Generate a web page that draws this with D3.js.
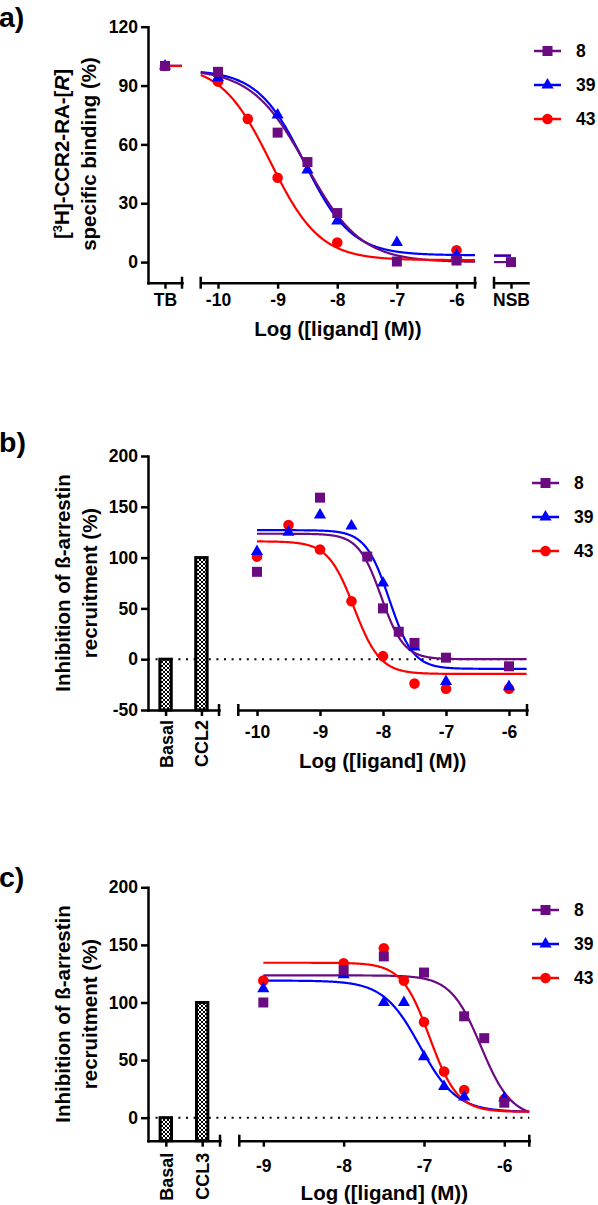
<!DOCTYPE html>
<html><head><meta charset="utf-8">
<script src="https://cdn.jsdelivr.net/npm/d3@7/dist/d3.min.js"></script>
<style>
body{margin:0;background:#fff}
svg text{font-family:"Liberation Sans",Arial,Helvetica,sans-serif;font-weight:bold;fill:#000}
</style></head><body>
<svg id="chart" width="598" height="1205"></svg>
<script>
// ---------------- DATA ----------------
const seriesNames = ["8", "39", "43"];

// Panel a) radioligand displacement
const aLogConc = [-10, -9.5, -9, -8.5, -8, -7, -6];
const a8  = [97, null, 66, 51, 25, 0.3, 0.8];
const a39 = [94, null, 75, 47, 21, 10, 3.6];
const a43 = [92, 73, 43, null, 10, null, 6];
const aTBCategory = ["TB"];
const aTB = [100, 100, 100];
const aNSBCategory = ["NSB"];
const aNSB = [0, null, null];
const aNSBLevel = [0, 3.3, 3.3];
const aTop = [98.5, 98, 101];
const aBottom = [0, 3.5, 1];
const aLogIC50 = [-8.52, -8.55, -9.12];
const aHill = [0.95, 1.1, 1.05];
const aYTicks = [0, 30, 60, 90, 120];
const aXTicks = [-10, -9, -8, -7, -6];

// Panel b) beta-arrestin, CCL2
const bBars = ["Basal", "CCL2"];
const bBarValues = [0, 100];
const bLogConc = [-10, -9.5, -9, -8.5, -8.25, -8, -7.75, -7.5, -7, -6];
const b8  = [86, null, 159, null, 101, 50, 27, 16, 1.5, -7];
const b39 = [106, 125, 142, 131, null, 75, null, 12, -22, -27];
const b43 = [101, 132, 108, 57, null, 3, null, -24, -29, -29];
const bTop = [123.5, 127, 116];
const bBottom = [0, -9.5, -14.5];
const bLogIC50 = [-8.03, -7.9, -8.46];
const bHill = [2.4, 2.3, 2.1];
const bYTicks = [-50, 0, 50, 100, 150, 200];
const bXTicks = [-10, -9, -8, -7, -6];

// Panel c) beta-arrestin, CCL3
const cBars = ["Basal", "CCL3"];
const cBarValues = [0, 100];
const cLogConc = [-9, -8, -7.5, -7.25, -7, -6.75, -6.5, -6.25, -6];
const c8  = [100, 128, 140, null, 126, null, 88, 69, 13];
const c39 = [112, 124, 100, 100, 53, 27, 18, null, 17];
const c43 = [119, 134, 147, 119, 83, 40, 24, null, 16];
const cTop = [123.5, 119, 134.5];
const cBottom = [0, 5, 5];
const cLogIC50 = [-6.29, -7.05, -6.93];
const cHill = [2.3, 1.9, 2.5];
const cYTicks = [0, 50, 100, 150, 200];
const cXTicks = [-9, -8, -7, -6];

// ---------------- STYLE ----------------
const colors = ["#6b0b82", "#0000ff", "#ff0000"];
const shapes = [d3.symbolSquare, d3.symbolTriangle, d3.symbolCircle];
const symSizes = [100, 64, 88];
const AXW = 2.5;

const svg = d3.select("#chart");
const defs = svg.append("defs");
const pat = defs.append("pattern").attr("id", "xhatch").attr("patternUnits", "userSpaceOnUse")
  .attr("width", 4).attr("height", 4);
pat.append("rect").attr("width", 4).attr("height", 4).attr("fill", "#fff");
pat.append("path").attr("d", "M0,0L4,4M4,0L0,4M-1,3L1,5M3,-1L5,1").attr("stroke", "#000").attr("stroke-width", 1);

function hill(x, top, bottom, ic, h) { return bottom + (top - bottom) / (1 + Math.pow(10, (x - ic) * h)); }

function styleAxis(sel, fs) {
  sel.selectAll("path, line").attr("stroke", "#000").attr("stroke-width", AXW);
  sel.select(".domain").attr("stroke-linecap", "square");
  sel.selectAll("text").attr("font-size", fs).attr("fill", "#000")
     .attr("font-family", '"Liberation Sans",Arial,sans-serif').attr("font-weight", "bold");
}
function cap(g, x, y) {
  g.append("line").attr("x1", x).attr("x2", x).attr("y1", y - 6).attr("y2", y + 6)
    .attr("stroke", "#000").attr("stroke-width", AXW);
}
function marker(g, i, x, y) {
  g.append("path").attr("d", d3.symbol(shapes[i], symSizes[i])())
    .attr("transform", `translate(${x},${y})`).attr("fill", colors[i]);
}
function legend(g, x0, x1, tx, ys) {
  seriesNames.forEach((n, i) => {
    g.append("line").attr("x1", x0).attr("x2", x1).attr("y1", ys[i]).attr("y2", ys[i])
      .attr("stroke", colors[i]).attr("stroke-width", 2.5);
    marker(g, i, (x0 + x1) / 2, ys[i]);
    g.append("text").attr("x", tx).attr("y", ys[i]).attr("dy", "0.36em").attr("font-size", 17.5).text(n);
  });
}

function drawPanel(p) {
  const g = svg.append("g");
  // panel letter
  g.append("text").attr("x", p.letterX).attr("y", p.letterY).attr("font-size", 28.5).text(p.letter);

  const y = d3.scaleLinear().domain(p.yDomain).range(p.yRange);
  const x = d3.scaleLinear().domain(p.mainDomain).range(p.mainRange);
  const axisY = p.yRange[0];

  // y axis
  const gy = g.append("g").attr("transform", `translate(${p.yAxisX},0)`)
    .call(d3.axisLeft(y).tickValues(p.yTicks).tickSize(7).tickSizeOuter(0).tickPadding(3).tickFormat(String));
  styleAxis(gy, 17.5);

  // y title
  const yt = g.append("g").attr("transform", `translate(0,${p.yTitleY})`);
  p.yTitleLines.forEach((fn, k) => {
    const t = yt.append("text").attr("transform", `translate(${p.yTitleX[k]},0) rotate(-90)`)
      .attr("text-anchor", "middle").attr("dy", "0.36em").attr("font-size", 20.5);
    fn(t);
  });

  // zero dotted line
  if (p.zeroLine) {
    g.append("line").attr("x1", p.yAxisX).attr("x2", p.mainRange[1]).attr("y1", y(0)).attr("y2", y(0))
      .attr("stroke", "#000").attr("stroke-width", 2).attr("stroke-dasharray", "2,5.6");
  }

  // left category segment
  const xl = d3.scalePoint().domain(p.leftCats).range(p.leftRange).padding(p.leftPad);
  const gl = g.append("g").attr("transform", `translate(0,${axisY})`)
    .call(d3.axisBottom(xl).tickSize(6).tickSizeOuter(0).tickPadding(p.tickPad));
  styleAxis(gl, 17.5);
  cap(g, p.leftRange[1], axisY);
  if (p.barValues) {
    gl.selectAll(".tick text").attr("transform", "rotate(-90)").attr("text-anchor", "end")
      .attr("x", -p.barLabelOffset).attr("y", 0).attr("dy", "0.36em").attr("font-size", 18);
    g.append("g").selectAll("rect").data(p.leftCats).join("rect")
      .attr("x", d => xl(d) - 5.7).attr("width", 11.4)
      .attr("y", (d, i) => y(p.barValues[i]))
      .attr("height", (d, i) => y(p.yDomain[0]) - y(p.barValues[i]))
      .attr("fill", "url(#xhatch)").attr("stroke", "#000").attr("stroke-width", 3);
  }

  // main axis
  const gx = g.append("g").attr("transform", `translate(0,${axisY})`)
    .call(d3.axisBottom(x).tickValues(p.xTicks).tickSize(6).tickSizeOuter(0).tickPadding(p.tickPad).tickFormat(String));
  styleAxis(gx, 17.5);
  cap(g, p.mainRange[0], axisY);
  cap(g, p.mainRange[1], axisY);
  g.append("text").attr("x", (p.mainRange[0] + p.mainRange[1]) / 2).attr("y", p.xTitleY)
    .attr("text-anchor", "middle").attr("font-size", 20.5).text("Log ([ligand] (M))");

  // right category segment (NSB)
  let xr = null;
  if (p.rightCats) {
    xr = d3.scalePoint().domain(p.rightCats).range(p.rightRange).padding(0.5);
    const gr = g.append("g").attr("transform", `translate(0,${axisY})`)
      .call(d3.axisBottom(xr).tickSize(6).tickSizeOuter(0).tickPadding(p.tickPad));
    styleAxis(gr, 17.5);
    cap(g, p.rightRange[0], axisY);
  }

  // TB lines (left)
  if (p.tb) {
    [0, 1, 2].forEach(i => {
      g.append("line").attr("x1", xl(p.leftCats[0])).attr("x2", p.leftRange[1])
        .attr("y1", y(p.tb[i])).attr("y2", y(p.tb[i])).attr("stroke", colors[i]).attr("stroke-width", 2.2);
    });
  }
  if (p.nsbLevel) {
    [2, 1, 0].forEach(i => {
      g.append("line").attr("x1", p.rightRange[0]).attr("x2", xr(p.rightCats[0]))
        .attr("y1", y(p.nsbLevel[i])).attr("y2", y(p.nsbLevel[i])).attr("stroke", colors[i]).attr("stroke-width", 2.2);
    });
  }

  // fitted curves
  const line = d3.line().x(d => x(d[0])).y(d => y(d[1]));
  const xs = d3.range(p.curveStart, p.mainDomain[1] + 0.0001, 0.01);
  [1, 0, 2].forEach(i => {
    const pts = xs.map(v => [v, hill(v, p.top[i], p.bottom[i], p.ic50[i], p.hill[i])]);
    g.append("path").attr("d", line(pts)).attr("fill", "none").attr("stroke", colors[i]).attr("stroke-width", 2.2);
  });

  // markers: red, blue, purple on top
  [2, 1, 0].forEach(i => {
    p.series[i].forEach((v, j) => { if (v != null) marker(g, i, x(p.conc[j]), y(v)); });
    if (p.tb) marker(g, i, xl(p.leftCats[0]), y(p.tb[i]));
    if (p.nsb && p.nsb[i] != null) marker(g, i, xr(p.rightCats[0]), y(p.nsb[i]));
  });

  legend(g, p.legend.x0, p.legend.x1, p.legend.tx, p.legend.ys);
}

const arrestinTitle = [
  t => t.text("Inhibition of ß-arrestin"),
  t => t.text("recruitment (%)")
];

drawPanel({
  letter: "a)", letterX: -1, letterY: 27,
  yDomain: [-10.5, 120], yRange: [282.7, 26.7], yTicks: aYTicks, yAxisX: 148,
  yTitleX: [62, 89], yTitleY: 154,
  yTitleLines: [
    t => { t.append("tspan").text("[");
           t.append("tspan").attr("dy", -7).attr("font-size", 13).text("3");
           t.append("tspan").attr("dy", 7).text("H]-CCR2-RA-[");
           t.append("tspan").attr("font-style", "italic").text("R");
           t.append("tspan").text("]"); },
    t => t.text("specific binding (%)")
  ],
  mainDomain: [-10.29, -5.69], mainRange: [200.7, 475], xTicks: aXTicks, tickPad: 5,
  xTitleY: 336,
  leftCats: aTBCategory, leftRange: [148, 182], leftPad: 0.5,
  rightCats: aNSBCategory, rightRange: [494, 528],
  tb: aTB, nsb: aNSB, nsbLevel: aNSBLevel,
  conc: aLogConc, series: [a8, a39, a43],
  top: aTop, bottom: aBottom, ic50: aLogIC50, hill: aHill, curveStart: -10.29,
  legend: { x0: 534, x1: 561, tx: 576, ys: [51, 85, 119] }
});

drawPanel({
  letter: "b)", letterX: -1, letterY: 452,
  yDomain: [-50, 200], yRange: [710, 456], yTicks: bYTicks, yAxisX: 148,
  yTitleX: [63, 90], yTitleY: 583, yTitleLines: arrestinTitle,
  zeroLine: true,
  mainDomain: [-10.297, -5.714], mainRange: [238.3, 527], xTicks: bXTicks, tickPad: 10,
  xTitleY: 768,
  leftCats: bBars, leftRange: [148, 219], leftPad: 0.49, barValues: bBarValues, barLabelOffset: 10,
  conc: bLogConc, series: [b8, b39, b43],
  top: bTop, bottom: bBottom, ic50: bLogIC50, hill: bHill, curveStart: -10,
  legend: { x0: 532, x1: 559, tx: 574, ys: [483, 517, 551] }
});

drawPanel({
  letter: "c)", letterX: -1, letterY: 887,
  yDomain: [-20, 200], yRange: [1140.7, 887.3], yTicks: cYTicks, yAxisX: 148,
  yTitleX: [63, 90], yTitleY: 1014, yTitleLines: arrestinTitle,
  zeroLine: true,
  mainDomain: [-9.299, -5.689], mainRange: [239.3, 529.3], xTicks: cXTicks, tickPad: 13,
  xTitleY: 1200,
  leftCats: cBars, leftRange: [148, 220], leftPad: 0.49, barValues: cBarValues, barLabelOffset: 12,
  conc: cLogConc, series: [c8, c39, c43],
  top: cTop, bottom: cBottom, ic50: cLogIC50, hill: cHill, curveStart: -9,
  legend: { x0: 532, x1: 559, tx: 574, ys: [910, 944, 978] }
});
</script>
</body></html>
